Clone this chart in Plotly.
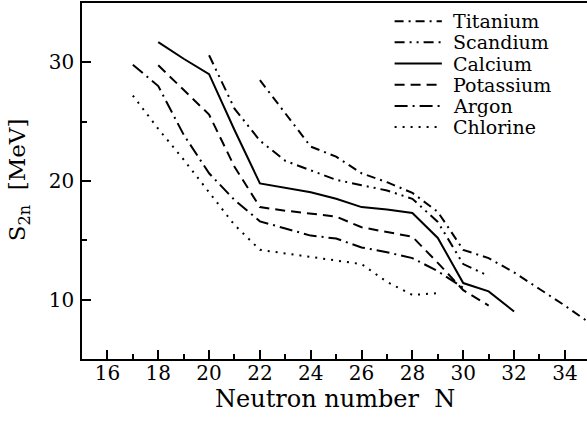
import plotly.graph_objects as go

# separation energies S2n [MeV]
names = ["Titanium", "Scandium", "Calcium", "Potassium", "Argon", "Chlorine"]

ti_n = [22, 23, 24, 25, 26, 27, 28, 29, 30, 31, 32, 33, 34, 35]
ti_s = [28.5, 25.7, 22.9, 22.05, 20.65, 19.9, 19.0, 17.4, 14.2, 13.5, 12.3, 10.9, 9.5, 8.0]

sc_n = [20, 21, 22, 23, 24, 25, 26, 27, 28, 29, 30, 31]
sc_s = [30.6, 26.1, 23.4, 21.7, 20.9, 20.1, 19.65, 19.2, 18.5, 16.55, 13.0, 12.0]

ca_n = [18, 19, 20, 21, 22, 23, 24, 25, 26, 27, 28, 29, 30, 31, 32]
ca_s = [31.7, 30.3, 29.0, 24.3, 19.8, 19.4, 19.05, 18.5, 17.8, 17.6, 17.3, 15.2, 11.4, 10.7, 9.0]

k_n = [18, 19, 20, 21, 22, 23, 24, 25, 26, 27, 28, 29, 30, 31]
k_s = [29.75, 27.7, 25.6, 21.2, 17.8, 17.5, 17.27, 17.0, 16.1, 15.7, 15.3, 13.1, 10.8, 9.5]

ar_n = [17, 18, 19, 20, 21, 22, 23, 24, 25, 26, 27, 28, 29, 30]
ar_s = [29.8, 28.0, 23.9, 20.65, 18.4, 16.6, 16.0, 15.4, 15.15, 14.4, 14.0, 13.5, 12.4, 11.0]

cl_n = [17, 18, 19, 20, 21, 22, 23, 24, 25, 26, 27, 28, 29]
cl_s = [27.2, 24.4, 21.8, 19.1, 16.3, 14.2, 13.9, 13.6, 13.3, 13.0, 11.5, 10.4, 10.55]

series = [(ti_n, ti_s), (sc_n, sc_s), (ca_n, ca_s), (k_n, k_s), (ar_n, ar_s), (cl_n, cl_s)]
dashes = ["9px,5px,2px,5px", "10px,5px,2px,5px,2px,5px", "solid",
          "10px,6px", "13px,5px,2px,5px", "2px,6px"]

SERIF = "DejaVu Serif, serif"

fig = go.Figure()
for (n, s), name, dash in zip(series, names, dashes):
    fig.add_trace(go.Scatter(x=n, y=s, name=name, mode="lines",
                             line=dict(color="black", width=2, dash=dash)))

# hand-built legend so the rows can sit as tight as in the original
row0, step = 0.949, 0.0595
for i, (name, dash) in enumerate(zip(names, dashes)):
    y = row0 - i * step
    fig.add_shape(type="line", xref="paper", yref="paper",
                  x0=0.619, x1=0.7126, y0=y, y1=y,
                  line=dict(color="black", width=2, dash=dash))
    fig.add_annotation(xref="paper", yref="paper", x=0.732, y=y,
                       text=name, showarrow=False, xanchor="left", yanchor="middle",
                       borderpad=0,
                       font=dict(family=SERIF, size=19, color="black"))

# axis titles
fig.add_annotation(xref="paper", yref="paper", x=0.5, y=-0.112,
                   text="Neutron number  N", showarrow=False,
                   xanchor="center", yanchor="middle", borderpad=0,
                   font=dict(family=SERIF, size=24, color="black"))
fig.add_annotation(xref="paper", yref="paper", x=-0.124, y=0.503,
                   text="S<sub>2n</sub>  [MeV]", showarrow=False, textangle=-90,
                   xanchor="center", yanchor="middle", borderpad=0,
                   font=dict(family=SERIF, size=23, color="black"))

fig.update_xaxes(
    range=[15, 34.87], tick0=16, dtick=2, automargin=False,
    ticks="inside", ticklen=9, tickwidth=1.5, tickcolor="black",
    minor=dict(dtick=1, ticks="inside", ticklen=5, tickwidth=1.5, tickcolor="black"),
    showline=True, linecolor="black", linewidth=1.5, mirror=True,
    showgrid=False, zeroline=False, ticklabelstandoff=-5,
    tickfont=dict(family=SERIF, size=20, color="black"),
)
fig.update_yaxes(
    range=[5, 35], tick0=10, dtick=10, automargin=False,
    ticks="inside", ticklen=9, tickwidth=1.5, tickcolor="black",
    minor=dict(dtick=5, ticks="inside", ticklen=5, tickwidth=1.5, tickcolor="black"),
    showline=True, linecolor="black", linewidth=1.5,
    showgrid=False, zeroline=False, ticklabelstandoff=2,
    tickfont=dict(family=SERIF, size=20, color="black"),
)

fig.update_layout(
    width=587, height=421,
    showlegend=False,
    plot_bgcolor="white", paper_bgcolor="white",
    margin=dict(l=82, r=0, t=3, b=62),
)

# drop the browser's default body margin so the figure sits at the page corner
fig.write_html("out.html", config={"displayModeBar": False},
               post_script="document.body.style.margin='0';")
